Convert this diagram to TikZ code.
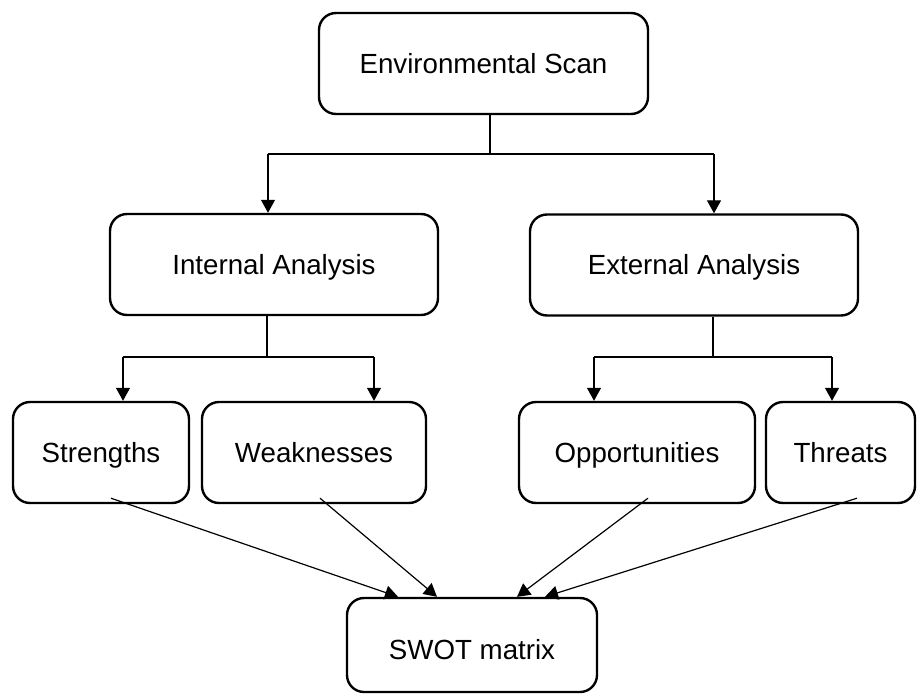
\documentclass[tikz,border=0pt]{standalone}
\usepackage{fontspec}
\setmainfont{Liberation Sans}
\usetikzlibrary{arrows.meta,calc}
\begin{document}
\begin{tikzpicture}[x=1pt,y=-1pt,
  box/.style={draw,line width=2.4pt,rounded corners=17pt,minimum height=101pt,
    inner sep=0pt,text height=19.8pt,text depth=0pt,
    font=\fontsize{27.7}{33}\selectfont},
  link/.style={line width=1.2pt},
  arr/.style={link,-{Triangle[length=13pt,width=14pt]}}]
\useasboundingbox (0,0) rectangle (917,695);

% boxes
\node[box,minimum width=329pt] (env) at (483.5,63.5) {Environmental Scan};
\node[box,minimum width=328pt] (int) at (274,264.5) {Internal Analysis};
\node[box,minimum width=328pt] (ext) at (694,265) {External Analysis};
\node[box,minimum width=176pt] (str) at (101,452.5) {Strengths};
\node[box,minimum width=224pt] (wea) at (314,452.5) {Weaknesses};
\node[box,minimum width=236pt] (opp) at (637,452.5) {Opportunities};
\node[box,minimum width=149pt] (thr) at (840.5,452.5) {Threats};
\node[box,minimum width=250pt,minimum height=94pt,text height=29pt]
  (swot) at (472,645) {SWOT matrix};

% branch from the scan to the two analyses
\coordinate (j0) at (490,154);
\coordinate (j0l) at (268,154);
\coordinate (j0r) at (714,154);
\draw[link] (env.south -| j0) -- (j0);
\draw[link] (j0l) -- (j0r);
\draw[arr] (j0l) -- (j0l |- int.north);
\draw[arr] (j0r) -- (j0r |- ext.north);

% branch from the internal analysis
\coordinate (j1) at (267,357);
\coordinate (j1l) at (123,357);
\coordinate (j1r) at (374,357);
\draw[link] (int.south -| j1) -- (j1);
\draw[link] (j1l) -- (j1r);
\draw[arr] (j1l) -- (j1l |- str.north);
\draw[arr] (j1r) -- (j1r |- wea.north);

% branch from the external analysis
\coordinate (j2) at (713,357);
\coordinate (j2l) at (594,357);
\coordinate (j2r) at (832,357);
\draw[link] (ext.south -| j2) -- (j2);
\draw[link] (j2l) -- (j2r);
\draw[arr] (j2l) -- (j2l |- opp.north);
\draw[arr] (j2r) -- (j2r |- thr.north);

% the four factors feed the matrix
\draw[arr] ($(str.south)+(10,-6)$) -- ($(swot.north)+(-74,0)$);
\draw[arr] ($(wea.south)+(6,-6)$) -- ($(swot.north)+(-35,0)$);
\draw[arr] ($(opp.south)+(11,-6)$) -- ($(swot.north)+(45,0)$);
\draw[arr] ($(thr.south)+(16.5,-6)$) -- ($(swot.north)+(73,0)$);
\end{tikzpicture}
\end{document}
